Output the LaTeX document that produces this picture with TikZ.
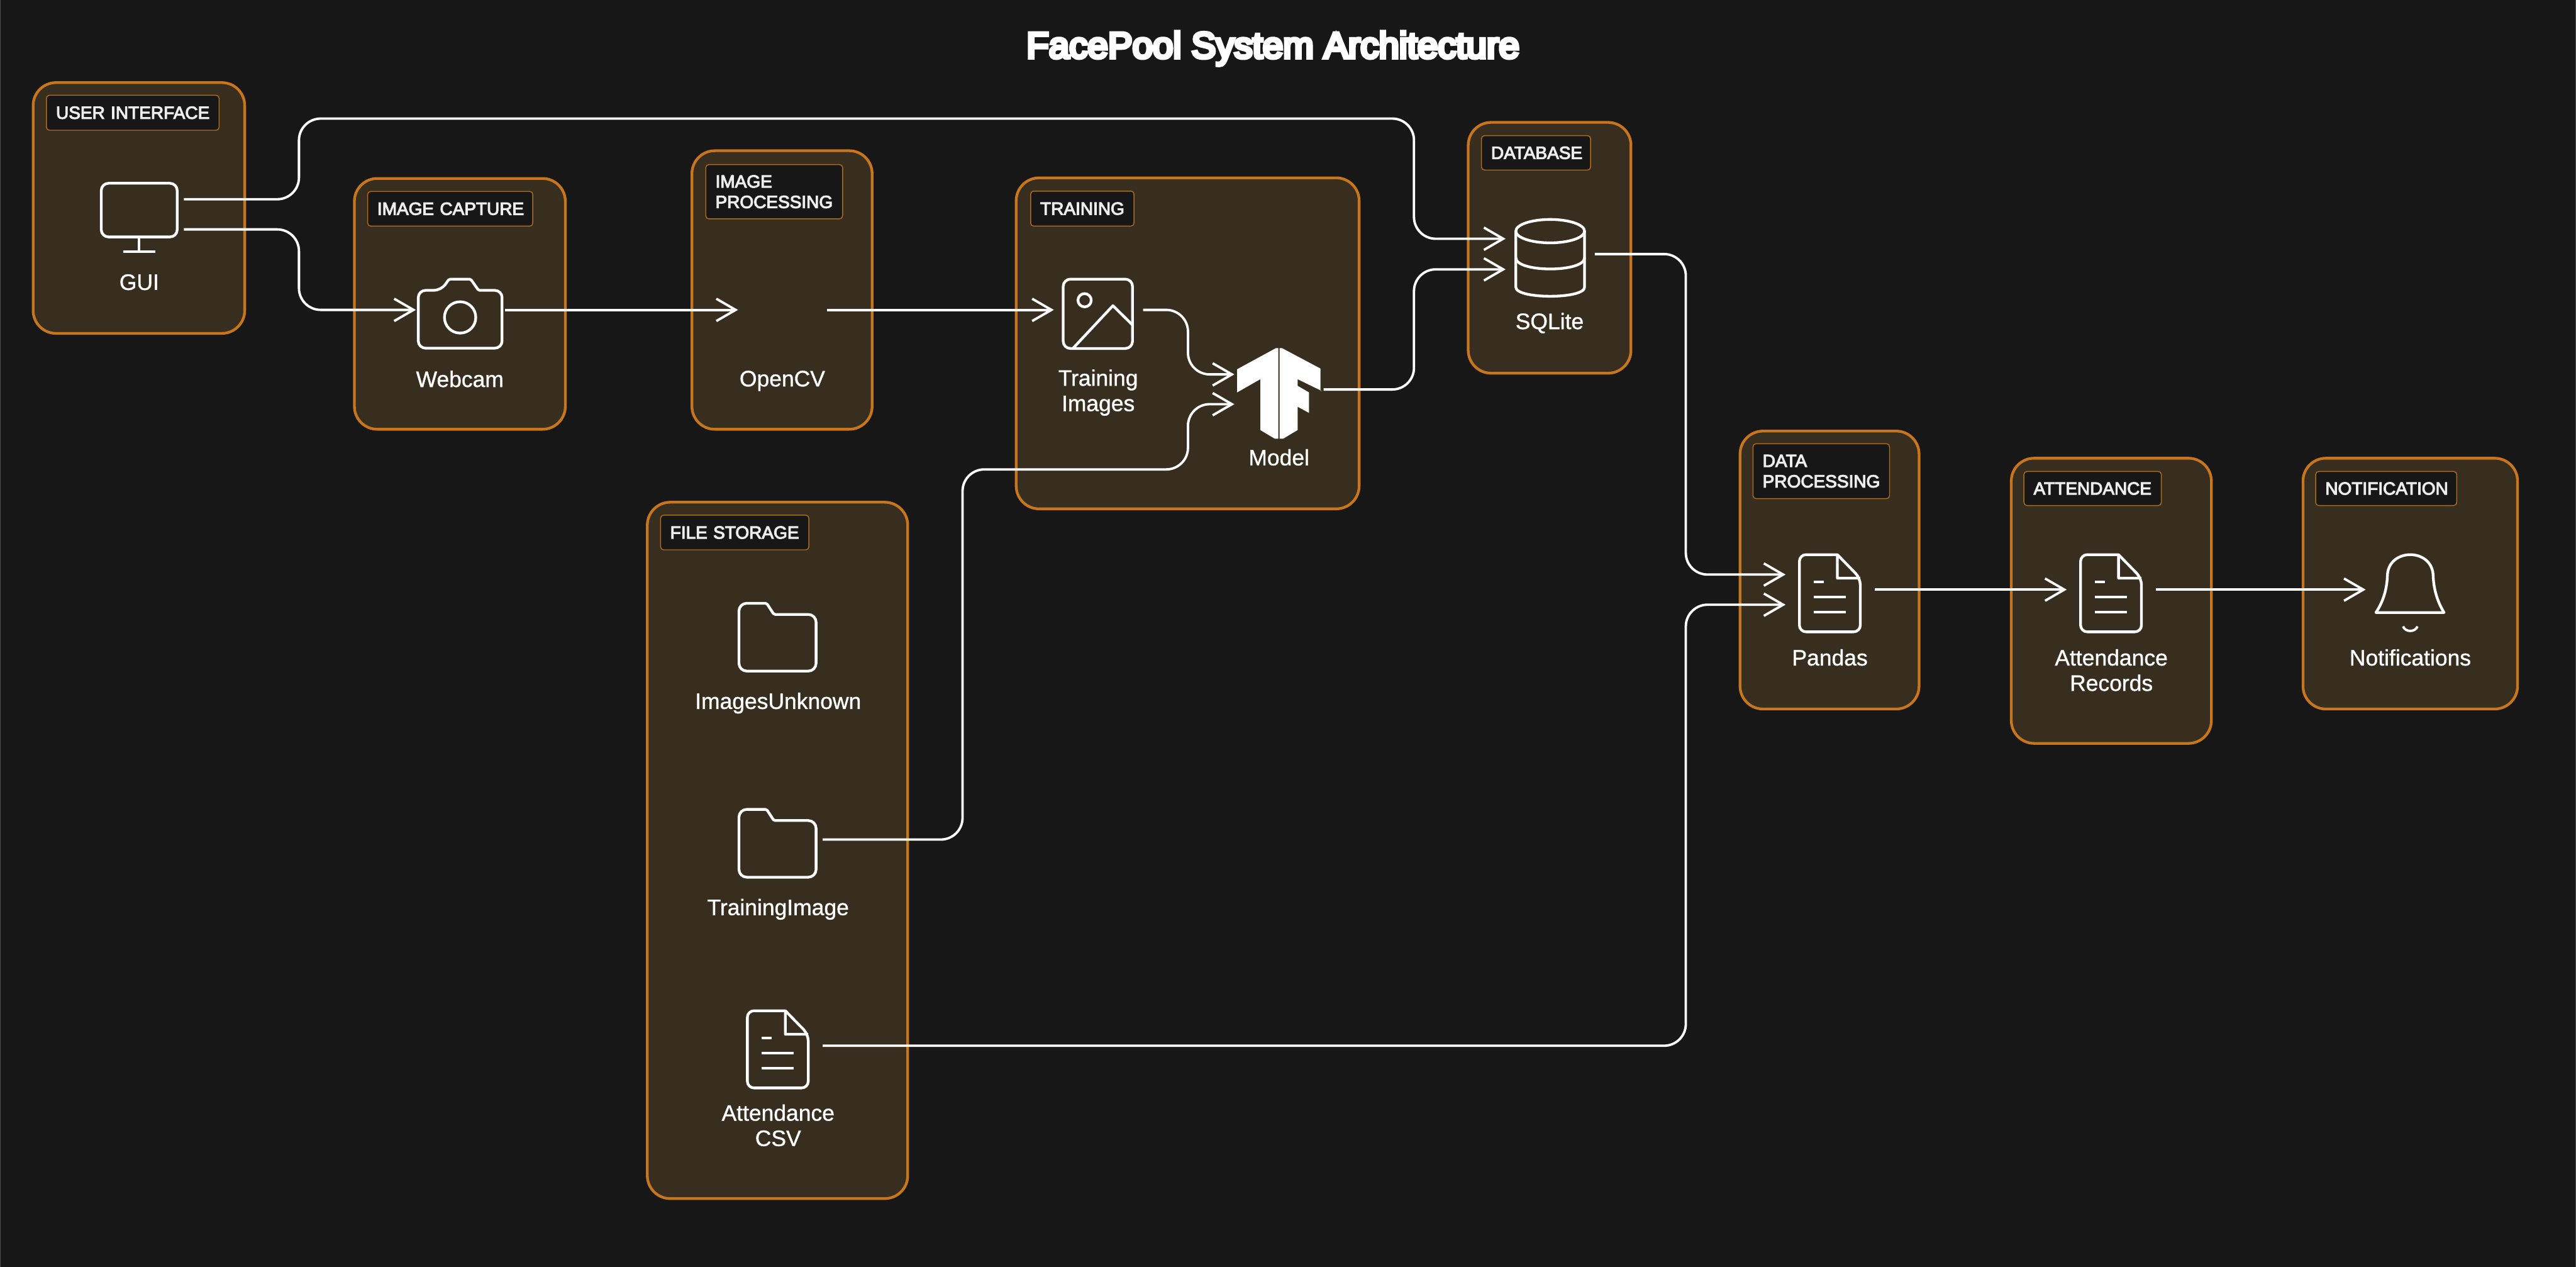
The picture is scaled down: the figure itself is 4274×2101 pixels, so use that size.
\documentclass[tikz,border=0pt]{standalone}
\usepackage{fontspec}
\setmainfont{Liberation Sans}
\newfontfamily\titlefont[FakeBold=9]{Liberation Sans}
\newfontfamily\tagfont[FakeBold=4]{Liberation Sans}
\newfontfamily\capfont[FakeBold=1]{Liberation Sans}
\usetikzlibrary{arrows.meta}
\definecolor{bgc}{HTML}{171717}
\definecolor{grpfill}{HTML}{372E20}
\definecolor{grpline}{HTML}{C8761E}
\definecolor{tagline}{HTML}{B06A1E}
\definecolor{tagtext}{HTML}{EDEDED}
\tikzset{
  grp/.style={draw=grpline,fill=grpfill,line width=4.5pt,rounded corners=38pt,inner sep=0pt,outer sep=0pt},
  tagbox/.style={draw=tagline,fill=bgc,line width=1.5pt,rounded corners=5pt,inner sep=0pt,outer sep=0pt,
    text=tagtext,align=left,font=\tagfont\fontsize{29.2}{34}\selectfont},
  iconframe/.style={minimum size=148pt,inner sep=0pt,outer sep=0pt},
  caption/.style={anchor=north,inner sep=0pt,outer sep=0pt,text=white,align=center,font=\capfont\fontsize{37}{42}\selectfont},
  flow/.style={draw=white,line width=4pt,rounded corners=36pt,-{Straight Barb[length=32pt,width=37pt,line width=4pt]}},
  ico/.style={draw=white,line width=4.5pt,line join=round},
  icoline/.style={draw=white,line width=4pt},
}
\newcommand{\groupbox}[5]{%
  \pgfmathsetmacro\gw{#4-#2}\pgfmathsetmacro\gh{#5-#3}%
  \node[grp,anchor=north west,minimum width=\gw pt,minimum height=\gh pt] (#1) at (#2,#3) {};}
\newcommand{\grouptag}[6]{%
  \pgfmathsetmacro\gw{#4-#2}\pgfmathsetmacro\gh{#5-#3}\pgfmathsetmacro\tw{\gw-32}%
  \node[tagbox,anchor=north west,minimum width=\gw pt,minimum height=\gh pt,text width=\tw pt] (#1) at (#2,#3) {#6};}
\newcommand{\oneline}[1]{\raisebox{-1.5pt}{#1}}
\newcommand{\docicon}[1]{%
  \begin{scope}[shift={(#1.center)}]
    \draw[ico,rounded corners=11pt] (12,-58) -- (-51,-58) -- (-51,70) -- (50,70) -- (50,-19) [sharp corners] -- (12,-58) -- (12,-19) -- (50,-19);
    \draw[icoline] (-27,-13) -- (-11,-13) (-27,12) -- (26,12) (-27,37) -- (26,37);
  \end{scope}}
\newcommand{\foldericon}[1]{%
  \begin{scope}[shift={(#1.center)}]
    \draw[ico,rounded corners=11pt] (-65,-50) [rounded corners=2pt] -- (-19,-50) -- (-7,-31.5) [rounded corners=13pt] -- (63,-31.5) -- (63,62.5) -- (-65,62.5) -- cycle;
  \end{scope}}
\begin{document}
\begin{tikzpicture}[x=1pt,y=-1pt]
\useasboundingbox (0,0) rectangle (4274,2101);
\fill[bgc] (0,0) rectangle (4274,2101);
\fill[gray!55!bgc] (0,0) rectangle (1.5,2101);
\fill[gray!55!bgc] (4272.5,0) rectangle (4274,2101);

\node[inner sep=0pt,anchor=north,text=white,font=\titlefont\fontsize{60.8}{70}\selectfont] (title) at (2112,52) {FacePool System Architecture};

% groups
\groupbox{gUser}{55}{137}{406}{553}
\groupbox{gCapture}{588}{296}{938}{712}
\groupbox{gProc}{1148}{250}{1447}{712}
\groupbox{gTrain}{1686}{295}{2255}{844}
\groupbox{gDb}{2436}{203}{2706}{619}
\groupbox{gStore}{1074}{833}{1506}{1988}
\groupbox{gData}{2887}{715}{3184}{1176}
\groupbox{gAtt}{3337}{760}{3669}{1233}
\groupbox{gNote}{3821}{760}{4177}{1176}

\grouptag{tUser}{77}{158}{363.5}{216}{\oneline{USER INTERFACE}}
\grouptag{tCapture}{610}{317.5}{884}{375}{\oneline{IMAGE CAPTURE}}
\grouptag{tProc}{1171}{273}{1398}{363}{IMAGE\\PROCESSING}
\grouptag{tTrain}{1710}{317}{1881.5}{375}{\oneline{TRAINING}}
\grouptag{tDb}{2458}{225}{2639}{282}{\oneline{DATABASE}}
\grouptag{tStore}{1096}{854.5}{1342}{912}{\oneline{FILE STORAGE}}
\grouptag{tData}{2908.5}{736}{3135}{827}{DATA\\PROCESSING}
\grouptag{tAtt}{3358}{782}{3586}{838.5}{\oneline{ATTENDANCE}}
\grouptag{tNote}{3842}{782}{4076}{838.5}{\oneline{NOTIFICATION}}

% icon frames
\node[iconframe] (gui) at (231,355.5) {};
\node[iconframe] (webcam) at (764,514) {};
\node[iconframe] (opencv) at (1298.5,514) {};
\node[iconframe] (trainimg) at (1822.5,514) {};
\node[iconframe] (model) at (2122,646) {};
\node[iconframe] (sqlite) at (2572,421.4) {};
\node[iconframe] (unknown) at (1291,1050.6) {};
\node[iconframe] (trainfolder) at (1291,1392.5) {};
\node[iconframe] (csv) at (1291,1734.5) {};
\node[iconframe] (pandas) at (3036.5,978) {};
\node[iconframe] (records) at (3503,978) {};
\node[iconframe] (bell) at (3999,978) {};

% connectors
\draw[flow] ([yshift=25pt]gui.east) -| (496,196.7) -| (2346,396) -- ([yshift=25.4pt]sqlite.west);
\draw[flow] ([yshift=-25pt]gui.east) -| (496,514) -- (webcam.west);
\draw[flow] (webcam.east) -- (opencv.west);
\draw[flow] (opencv.east) -- (trainimg.west);
\draw[flow] (trainimg.east) -| (1971,621) -- ([yshift=25pt]model.west);
\draw[flow] (trainfolder.east) -| (1597,778.6) -| (1971,670.4) -- ([yshift=-24.4pt]model.west);
\draw[flow] (model.east) -| (2346,446.8) -- ([yshift=-25.4pt]sqlite.west);
\draw[flow] (sqlite.east) -| (2797,953) -- ([yshift=25pt]pandas.west);
\draw[flow] (csv.east) -| (2797,1003) -- ([yshift=-25pt]pandas.west);
\draw[flow] (pandas.east) -- (records.west);
\draw[flow] (records.east) -- (bell.west);

% icons
\begin{scope}[shift={(gui.center)}]
  \draw[ico,rounded corners=12pt] (-63,-51.5) rectangle (63,37.5);
  \draw[icoline] (0,37.5) -- (0,62) (-27,62) -- (27,62);
\end{scope}
\begin{scope}[shift={(webcam.center)}]
  \draw[ico] (-32,-32.4) [rounded corners=2pt] -- (-19,-51) -- (17,-51) -- (30,-32.4) [rounded corners=12pt] -- (69,-32.4) -- (69,63.5) -- (-70,63.5) -- (-70,-32.4) -- cycle;
  \draw[ico] (-0.6,12.5) circle[radius=26pt];
\end{scope}
\begin{scope}[shift={(trainimg.center)}]
  \draw[ico,rounded corners=12pt] (-58.5,-51) rectangle (56.5,64);
  \draw[ico] (-23,-16) circle[radius=11pt];
  \draw[ico] (-42.5,64) -- (24,-7) -- (56.5,25);
\end{scope}
\begin{scope}[shift={(model.center)}]
  \fill[white] (-1,-68.6) -- (-5,-68.6) -- (-69.5,-33.5) -- (-69.5,4.9) -- (-30.9,-17.1) -- (-30.9,67.3) -- (-7,81.6) -- (-1,81.6) -- cycle;
  \fill[white] (1,-68.6) -- (5,-68.6) -- (68.8,-34.7) -- (68.8,2) -- (72,3) -- (30.9,-17.1) -- (30.9,-6.1) -- (49.8,4.9) -- (49.8,38.8) -- (30.9,28.6) -- (30.9,67.3) -- (7,81.6) -- (1,81.6) -- cycle;
\end{scope}
\begin{scope}[shift={(sqlite.center)}]
  \draw[ico] (0,-38) ellipse[x radius=57pt,y radius=19.4pt];
  \draw[ico] (-57,-38) -- (-57,55) .. controls (-57,75) and (57,75) .. (57,55) -- (57,-38);
  \draw[ico] (-57,6) .. controls (-57,31) and (57,31) .. (57,6);
\end{scope}
\foldericon{unknown}
\foldericon{trainfolder}
\docicon{csv}
\docicon{pandas}
\docicon{records}
\begin{scope}[shift={(bell.center)}]
  \draw[ico] (-57,38) .. controls (-45,20) and (-39,0) .. (-38,-22) .. controls (-38,-45) and (-20,-58) .. (0,-58) .. controls (20,-58) and (38,-45) .. (38,-22) .. controls (39,0) and (45,20) .. (56,38) -- cycle;
  \draw[icoline] (-12,61) .. controls (-8,71) and (8,71) .. (12,61);
\end{scope}

% captions
\node[caption] (lgui) at (231,455) {GUI};
\node[caption] (lwebcam) at (763,615) {Webcam};
\node[caption] (lopencv) at (1298,615) {OpenCV};
\node[caption] (ltrain) at (1822,613) {Training\\Images};
\node[caption] (lmodel) at (2122,745) {Model};
\node[caption] (lsqlite) at (2571,519) {SQLite};
\node[caption] (lunknown) at (1291,1149) {ImagesUnknown};
\node[caption] (ltrainf) at (1291,1491) {TrainingImage};
\node[caption] (lcsv) at (1291,1832) {Attendance\\CSV};
\node[caption] (lpandas) at (3036,1077) {Pandas};
\node[caption] (lrecords) at (3503,1077) {Attendance\\Records};
\node[caption] (lbell) at (3999,1077) {Notifications};
\end{tikzpicture}
\end{document}
